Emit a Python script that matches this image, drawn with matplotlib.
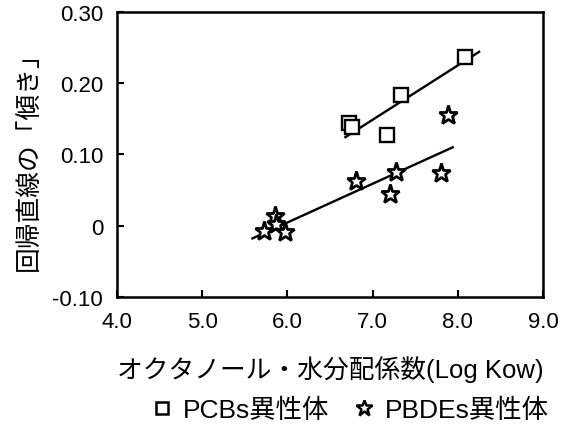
import matplotlib
matplotlib.use("Agg")
import matplotlib.pyplot as plt
from matplotlib.lines import Line2D
import numpy as np

plt.rcParams['font.family'] = ['Liberation Sans', 'Noto Sans CJK JP', 'DejaVu Sans']

# data
pcb_x = [8.08, 7.33, 6.72, 6.76, 7.17]
pcb_y = [0.237, 0.184, 0.144, 0.138, 0.127]
pbde_x = [7.89, 7.80, 7.28, 7.21, 6.80, 5.85, 5.87, 5.72, 5.97]
pbde_y = [0.155, 0.074, 0.075, 0.044, 0.063, 0.014, 0.003, -0.007, -0.009]

# regression lines (x range, slope, point on line)
pcb_fit_x = [6.68, 8.25]
pcb_slope, pcb_x0, pcb_y0 = 0.0763, 6.676, 0.124
pbde_fit_x = [5.59, 7.94]
pbde_slope, pbde_x0, pbde_y0 = 0.0544, 5.593, -0.0176

x_ticks = [4.0, 5.0, 6.0, 7.0, 8.0, 9.0]
x_ticklabels = ['4.0', '5.0', '6.0', '7.0', '8.0', '9.0']
y_ticks = [-0.10, 0.0, 0.10, 0.20, 0.30]
y_ticklabels = ['-0.10', '0', '0.10', '0.20', '0.30']

fig = plt.figure(figsize=(5.64, 4.27), dpi=100)
ax = fig.add_axes([0.2074, 0.3021, 0.7554, 0.6675])

fx = np.array(pcb_fit_x)
ax.plot(fx, pcb_y0 + pcb_slope * (fx - pcb_x0), color='black', lw=1.7, zorder=2)
fx2 = np.array(pbde_fit_x)
ax.plot(fx2, pbde_y0 + pbde_slope * (fx2 - pbde_x0), color='black', lw=1.7, zorder=2)

ax.plot(pcb_x, pcb_y, linestyle='none', marker='s', markersize=9.5,
        markerfacecolor='white', markeredgecolor='black', markeredgewidth=1.7, zorder=3)
ax.plot(pbde_x, pbde_y, linestyle='none', marker='*', markersize=14,
        markerfacecolor='white', markeredgecolor='black', markeredgewidth=2.0, zorder=3)

ax.set_xlim(4.0, 9.0)
ax.set_ylim(-0.10, 0.30)
ax.set_xticks(x_ticks)
ax.set_xticklabels(x_ticklabels)
ax.set_yticks(y_ticks)
ax.set_yticklabels(y_ticklabels)
ax.tick_params(direction='in', length=5, width=1.5, labelsize=16, pad=10)
for s in ax.spines.values():
    s.set_linewidth(1.8)

ax.set_ylabel('回帰直線の「傾き」', fontsize=18.5, labelpad=8)
ax.set_xlabel('オクタノール・水分配係数(Log Kow)', fontsize=18.5, labelpad=17)

handles = [
    Line2D([], [], linestyle='none', marker='s', markersize=8,
           markerfacecolor='white', markeredgecolor='black', markeredgewidth=1.8),
    Line2D([], [], linestyle='none', marker='*', markersize=12,
           markerfacecolor='white', markeredgecolor='black', markeredgewidth=1.8),
]
fig.legend(handles, ['PCBs異性体', 'PBDEs異性体'], loc='center', bbox_to_anchor=(0.623, 0.037),
           ncol=2, frameon=False, fontsize=19, handlelength=0.6, handletextpad=0.5,
           columnspacing=1.0, borderpad=0, borderaxespad=0)

fig.savefig('out.png', dpi=100)
